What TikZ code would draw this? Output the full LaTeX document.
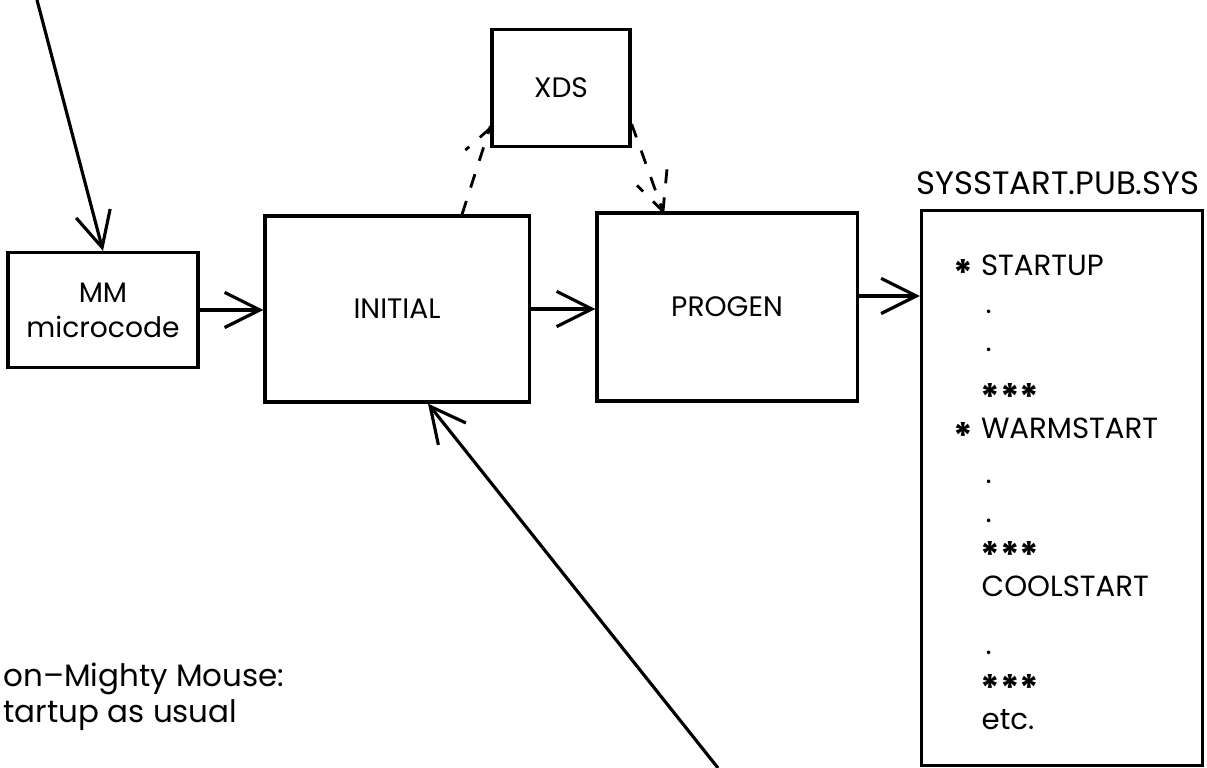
\documentclass[tikz,border=0pt]{standalone}
\usepackage{fontspec}
\usepackage{graphicx}
\setmainfont{Poppins}
\usetikzlibrary{arrows.meta,positioning,calc}

\tikzset{
  box/.style={draw, line width=0.9pt, inner sep=0pt, align=center},
  flow/.style={line width=0.9pt, -{Straight Barb[length=10pt,width=10pt,line width=0.9pt]}},
  link/.style={line width=0.8pt, dash pattern=on 4pt off 4pt},
  entry/.style={anchor=base west, inner sep=0pt, font=\fontsize{8.3}{10}\selectfont},
}
\newcommand{\lowstar}{\raisebox{-0.36em}{\scalebox{1.25}{\textbf{*}}}}

\begin{document}
\begin{tikzpicture}[x=0.01cm, y=-0.01cm, font=\fontsize{8}{10}\selectfont]
    \useasboundingbox (0,0) rectangle (1207,768);

    % Kaesten
    \node[box, minimum width=1.90cm, minimum height=1.15cm] (mm) at (103,310) {MM\\microcode};
    \node[box, minimum width=2.64cm, minimum height=1.86cm] (initial) at (397,309) {INITIAL};
    \node[box, minimum width=2.60cm, minimum height=1.88cm] (progen) at (727,307) {PROGEN};
    \node[box, minimum width=1.38cm, minimum height=1.17cm] (xds) at (561,88) {XDS};
    \node[box, minimum width=2.81cm, minimum height=5.54cm] (sys) at (1062,488) {};
    \node[anchor=base, inner sep=0pt, font=\fontsize{9.2}{11}\selectfont] (systitle) at (1058,195) {SYSSTART.PUB.SYS};

    % Inhalt der Datei
    \node[entry] (l1) at (953,276) {\lowstar\ STARTUP};
    \node[entry] (d1) at (985,314) {.};
    \node[entry] (d2) at (985,352) {.};
    \node[entry] (s1) at (980,400) {\lowstar\lowstar\lowstar};
    \node[entry] (l2) at (953,439) {\lowstar\ WARMSTART};
    \node[entry] (d3) at (985,484) {.};
    \node[entry] (d4) at (985,523) {.};
    \node[entry] (s2) at (980,558) {\lowstar\lowstar\lowstar};
    \node[entry] (l3) at (981,597) {COOLSTART};
    \node[entry] (d5) at (985,655) {.};
    \node[entry] (s3) at (980,691) {\lowstar\lowstar\lowstar};
    \node[entry] (l4) at (981,729) {etc.};

    % Notiz
    \node[entry, font=\fontsize{8.8}{10}\selectfont] (note1) at (3,687) {on--Mighty Mouse:};
    \node[entry, font=\fontsize{8.8}{10}\selectfont] (note2) at (3,722) {tartup as usual};

    % Pfeile
    \coordinate (src) at (37,0);
    \coordinate (usr) at (718,768);
    \draw[flow] (src) -- (mm.north);
    \draw[flow] (mm.east) -- (mm.east -| initial.west);
    \draw[flow] (initial.east) -- (initial.east -| progen.west);
    \draw[flow] ([yshift=0.11cm]progen.east) -- ([yshift=0.11cm]progen.east -| sys.west);
    \draw[flow] (usr) -- ([xshift=0.31cm]initial.south);

    % XDS gestrichelt
    \draw[link] ([xshift=0.65cm]initial.north) -- ([yshift=0.22cm]xds.south west);
    \draw[link] ([yshift=0.20cm]xds.south west) -- +(-25,22);
    \draw[link] ([yshift=0.24cm]xds.south east) -- ([xshift=-0.64cm]progen.north);
    \draw[link] ([xshift=-0.64cm]progen.north) -- +(4,-42);
    \draw[link] ([xshift=-0.64cm]progen.north) -- +(-26,-26);
\end{tikzpicture}
\end{document}
